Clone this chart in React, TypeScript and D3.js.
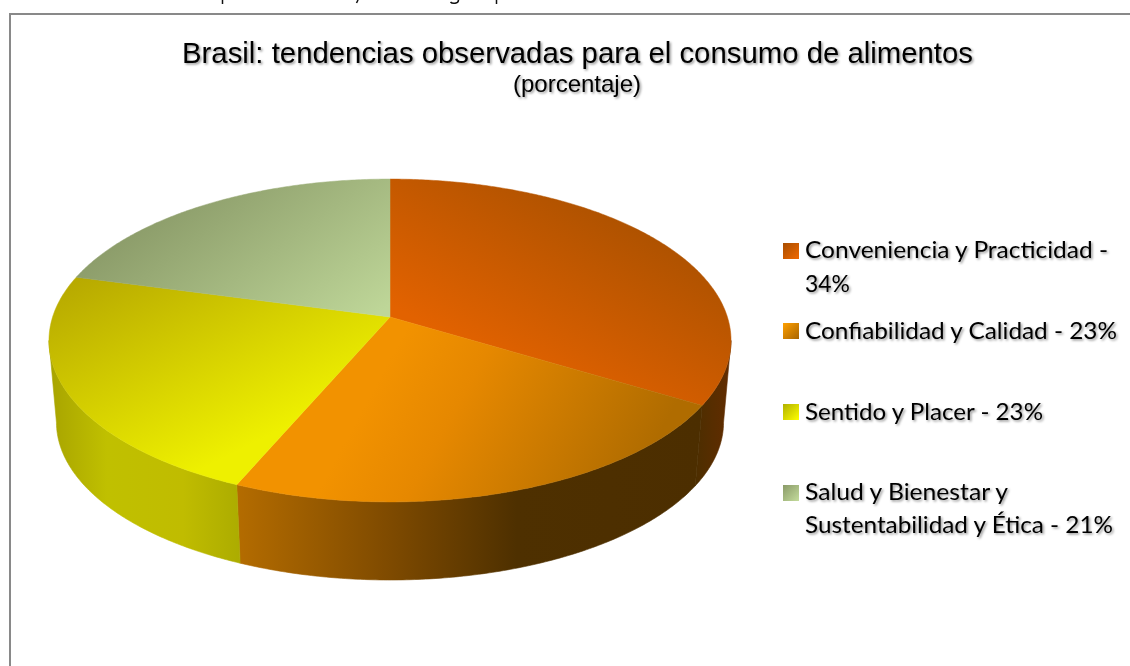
import React from "react";
import * as d3 from "d3";

const categories = ["Conveniencia y Practicidad", "Confiabilidad y Calidad", "Sentido y Placer", "Salud y Bienestar y Sustentabilidad y Ética"];
const values = [34, 23, 23, 21];
const legendLines = [
  ["Conveniencia y Practicidad -", "34%"],
  ["Confiabilidad y Calidad - 23%"],
  ["Sentido y Placer - 23%"],
  ["Salud y Bienestar y", "Sustentabilidad y Ética - 21%"],
];
const titleText = "Brasil: tendencias observadas para el consumo de alimentos";
const subtitleText = "(porcentaje)";

// layout (separate from the data)
const W = 1130, H = 666;
const CX = 390;
const PERSP = 0.1455;
const topFace = { y0: 317, a: 337.4, b: 158 };
const bottomFace = { y0: 399.3, a: 330, b: 154.4 };
const legendBaselines = [[258, 292], [339], [420], [500, 533]];
const legendWidths = [[303, 45], [312], [238], [203, 308]];
const legendMarkerY = [243, 323, 404, 485];

const topGrads = [
  { p: [640, 200, 537, 386], s: [[0, "#a85000"], [1, "#e26200"]] },
  { p: [400, 340, 640, 470], s: [[0, "#f29200"], [0.3, "#e68800"], [1, "#b06c00"]] },
  { p: [100, 270, 200, 470], s: [[0, "#b8aa00"], [1, "#eef000"]] },
  { p: [170, 190, 300, 370], s: [[0, "#8a9a68"], [1, "#bed698"]] },
];
const sideGrads = [
  { p: [695, 0, 730, 0], s: [[0, "#4c2e00"], [1, "#622c00"]] },
  { p: [237, 0, 703, 0], s: [[0, "#b46c00"], [0.33, "#7e4a00"], [0.6, "#4e3000"], [1, "#4c2e00"]] },
  { p: [50, 0, 240, 0], s: [[0, "#a8a400"], [0.3, "#c0c000"], [0.7, "#c0bc00"], [1, "#acac00"]] },
];
const markerGrads = [
  ["#a84e00", "#f06800"],
  ["#ffa000", "#a86400"],
  ["#b0b000", "#ffff00"],
  ["#8a9a68", "#c4dc9c"],
];

type Face = { y0: number; a: number; b: number };
// polar angle (clockwise from the far side of the disc) to the page, in perspective
const project = (f: Face, t: number): [number, number] => {
  const u = Math.sin(t), v = -Math.cos(t);
  const w = 1 - PERSP * v;
  return [CX + (f.a * u) / w, f.y0 + (f.b * v) / w];
};
const arcPts = (f: Face, a0: number, a1: number) => {
  const n = Math.max(2, Math.ceil(Math.abs(a1 - a0) / 0.01));
  return d3.range(n + 1).map((i) => project(f, a0 + ((a1 - a0) * i) / n));
};
const line = d3.line();

const arcs = d3.pie<number>().sort(null)(values);
const silhouette = Math.acos(-PERSP);
const sideFaces = arcs
  .map((d, i) => ({ i, a0: Math.max(d.startAngle, silhouette), a1: Math.min(d.endAngle, 2 * Math.PI - silhouette) }))
  .filter((d) => d.a1 > d.a0);

const Grad = ({ id, p, s }: { id: string; p: number[]; s: (string | number)[][] }) => (
  <linearGradient id={id} gradientUnits="userSpaceOnUse" x1={p[0]} y1={p[1]} x2={p[2]} y2={p[3]}>
    {s.map((st, j) => (
      <stop key={j} offset={st[0] as number} stopColor={st[1] as string} />
    ))}
  </linearGradient>
);

export default function App() {
  return (
    <svg width={W} height={H} viewBox={`0 0 ${W} ${H}`} style={{ position: "absolute", left: 0, top: 0, display: "block" }}>
      <defs>
        <filter id="ts" x="-5%" y="-30%" width="110%" height="170%">
          <feDropShadow dx="1.5" dy="1.5" stdDeviation="1" floodColor="#000" floodOpacity="0.42" />
        </filter>
        {topGrads.map((g, i) => <Grad key={i} id={`top${i}`} p={g.p} s={g.s} />)}
        {sideGrads.map((g, i) => <Grad key={i} id={`side${i}`} p={g.p} s={g.s} />)}
        {markerGrads.map((c, i) => (
          <linearGradient key={i} id={`mk${i}`} x1="0" y1="0" x2="1" y2="1">
            <stop offset="0" stopColor={c[0]} />
            <stop offset="1" stopColor={c[1]} />
          </linearGradient>
        ))}
      </defs>

      <rect width={W} height={H} fill="#fff" />

      {/* frame of the chart, which runs off the picture */}
      <path d={`M10 ${H + 5} V14 H${W + 5}`} fill="none" stroke="#898989" strokeWidth="2" />

      {/* descenders of the cropped line above the chart */}
      <g fill="none" stroke="#111" strokeWidth="1.5">
        <path d="M222.5 0V4" />
        <path d="M358 0L356.5 3" />
        <path d="M458.5 0C458.5 4 452 4 450.5 2" />
        <path d="M496.5 0V4" />
      </g>

      <text x={577.5} y={63} textAnchor="middle" fontFamily="Liberation Sans" fontSize="29.33" fill="#000" filter="url(#ts)" textLength={791} lengthAdjust="spacingAndGlyphs">
        {titleText}
      </text>
      <text x={577} y={92} textAnchor="middle" fontFamily="Liberation Sans" fontSize="24" fill="#000" filter="url(#ts)" textLength={128} lengthAdjust="spacingAndGlyphs">
        {subtitleText}
      </text>

      {sideFaces.map((s) => {
        const top = arcPts(topFace, s.a0, s.a1);
        const bot = arcPts(bottomFace, s.a1, s.a0);
        return <path key={s.i} d={line([...top, ...bot])! + "Z"} fill={`url(#side${s.i})`} stroke={`url(#side${s.i})`} strokeWidth="0.6" />;
      })}
      {arcs.map((d, i) => (
        <path
          key={categories[i]}
          d={line([[CX, topFace.y0], ...arcPts(topFace, d.startAngle, d.endAngle)])! + "Z"}
          fill={`url(#top${i})`}
          stroke={`url(#top${i})`}
          strokeWidth="0.5"
        />
      ))}

      {legendLines.map((lines, i) => (
        <g key={i}>
          <rect x={783} y={legendMarkerY[i]} width={16} height={16} fill={`url(#mk${i})`} />
          {lines.map((t, j) => (
            <text key={j} x={805} y={legendBaselines[i][j]} fontFamily="Lato" fontSize="23.5" fill="#000" filter="url(#ts)" textLength={legendWidths[i][j]} lengthAdjust="spacingAndGlyphs">
              {t}
            </text>
          ))}
        </g>
      ))}
    </svg>
  );
}
